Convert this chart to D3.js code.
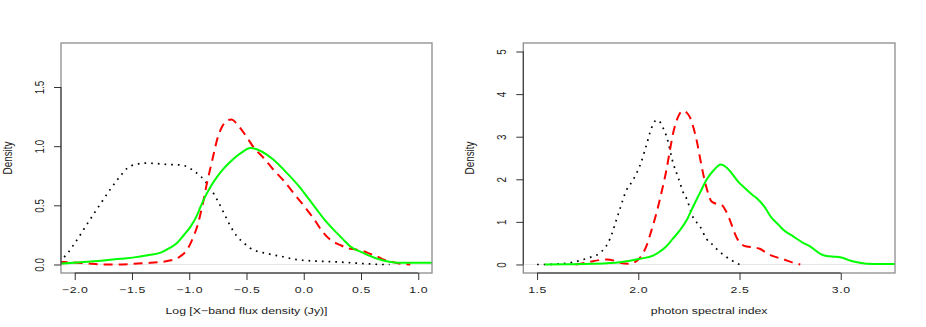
<!DOCTYPE html>
<html>
<head>
<meta charset="utf-8">
<script src="https://cdn.jsdelivr.net/npm/d3@7"></script>
<style>
  body { margin: 0; background: #fff; }
  text { font-family: "Liberation Sans", Arial, sans-serif; fill: #222; }
</style>
</head>
<body>
<div id="wrapper"></div>
<script>
// left panel: log X-band flux density, three kernel density curves
const fluxDotted = [[-2.14,0.03],[-2.10,0.056],[-2.0,0.18],[-1.89,0.345],[-1.77,0.52],[-1.686,0.64],[-1.60,0.75],[-1.54,0.815],[-1.46,0.848],[-1.37,0.857],[-1.28,0.852],[-1.18,0.845],[-1.105,0.843],[-1.02,0.828],[-0.96,0.79],[-0.90,0.745],[-0.85,0.69],[-0.787,0.60],[-0.757,0.548],[-0.70,0.44],[-0.64,0.323],[-0.58,0.235],[-0.525,0.183],[-0.47,0.14],[-0.409,0.112],[-0.33,0.095],[-0.264,0.08],[-0.177,0.065],[-0.09,0.045],[0.0,0.035],[0.114,0.028],[0.2,0.025],[0.317,0.02],[0.45,0.012],[0.55,0.006],[0.694,0.0],[0.75,0.0]];
const fluxDashed = [[-2.14,0.02],[-2.09,0.02],[-1.9,0.01],[-1.77,0.0],[-1.63,0.0],[-1.48,0.006],[-1.34,0.014],[-1.16,0.035],[-1.077,0.07],[-1.018,0.126],[-0.97,0.22],[-0.93,0.323],[-0.90,0.435],[-0.874,0.548],[-0.845,0.69],[-0.815,0.815],[-0.785,0.94],[-0.757,1.054],[-0.71,1.17],[-0.67,1.217],[-0.63,1.225],[-0.59,1.195],[-0.554,1.153],[-0.50,1.08],[-0.438,0.99],[-0.35,0.90],[-0.264,0.80],[-0.177,0.71],[-0.09,0.605],[0.027,0.464],[0.085,0.39],[0.172,0.267],[0.23,0.21],[0.317,0.165],[0.375,0.14],[0.462,0.125],[0.52,0.112],[0.58,0.09],[0.637,0.07],[0.70,0.04],[0.78,0.02],[0.85,0.005],[0.93,0.0]];
const fluxSolid = [[-2.14,0.006],[-1.95,0.018],[-1.77,0.032],[-1.60,0.048],[-1.48,0.06],[-1.35,0.08],[-1.25,0.10],[-1.17,0.14],[-1.105,0.183],[-1.05,0.245],[-0.99,0.318],[-0.94,0.40],[-0.90,0.49],[-0.874,0.548],[-0.815,0.655],[-0.757,0.74],[-0.70,0.81],[-0.65,0.86],[-0.60,0.905],[-0.54,0.948],[-0.467,0.984],[-0.40,0.97],[-0.32,0.927],[-0.264,0.885],[-0.147,0.773],[-0.03,0.647],[0.0,0.61],[0.114,0.464],[0.172,0.39],[0.288,0.267],[0.346,0.21],[0.404,0.154],[0.52,0.098],[0.55,0.084],[0.694,0.034],[0.724,0.028],[0.84,0.014],[1.0,0.014],[1.14,0.014]];

// right panel: photon spectral index
const indexDotted = [[1.5,0.0],[1.546,0.0],[1.596,0.01],[1.678,0.054],[1.75,0.15],[1.81,0.27],[1.84,0.42],[1.86,0.6],[1.892,1.05],[1.909,1.3],[1.942,1.75],[1.97,1.95],[1.991,2.14],[2.008,2.32],[2.04,2.8],[2.065,3.2],[2.09,3.39],[2.10,3.38],[2.123,3.2],[2.14,3.0],[2.172,2.38],[2.2,2.0],[2.221,1.7],[2.238,1.55],[2.271,1.1],[2.304,0.9],[2.337,0.6],[2.37,0.45],[2.394,0.33],[2.419,0.234],[2.46,0.1],[2.50,0.0]];
const indexDashed = [[1.69,0.0],[1.74,0.04],[1.777,0.078],[1.843,0.117],[1.88,0.09],[1.909,0.04],[1.958,0.016],[1.985,0.06],[2.008,0.156],[2.04,0.43],[2.065,0.8],[2.09,1.21],[2.115,1.7],[2.139,2.22],[2.155,2.65],[2.172,3.08],[2.195,3.45],[2.221,3.605],[2.24,3.56],[2.254,3.465],[2.27,3.25],[2.288,2.92],[2.305,2.5],[2.32,2.14],[2.34,1.75],[2.362,1.48],[2.39,1.42],[2.411,1.40],[2.43,1.28],[2.452,1.05],[2.475,0.75],[2.50,0.52],[2.535,0.42],[2.57,0.40],[2.60,0.37],[2.63,0.28],[2.666,0.195],[2.715,0.125],[2.76,0.05],[2.80,0.0]];
const indexSolid = [[1.538,0.0],[1.65,0.005],[1.777,0.016],[1.909,0.054],[2.008,0.133],[2.073,0.21],[2.105,0.3],[2.139,0.43],[2.17,0.6],[2.205,0.8],[2.24,1.05],[2.271,1.36],[2.304,1.675],[2.337,1.99],[2.37,2.2],[2.408,2.35],[2.43,2.3],[2.452,2.2],[2.468,2.1],[2.5,1.91],[2.518,1.83],[2.567,1.62],[2.584,1.56],[2.633,1.285],[2.65,1.15],[2.699,0.9],[2.715,0.82],[2.765,0.66],[2.814,0.51],[2.85,0.42],[2.897,0.257],[2.93,0.2],[2.98,0.18],[3.02,0.14],[3.045,0.093],[3.095,0.04],[3.128,0.016],[3.2,0.01],[3.3,0.016]];

const fluxXTicks = [-2.0, -1.5, -1.0, -0.5, 0.0, 0.5, 1.0];
const fluxYTicks = [0.0, 0.5, 1.0, 1.5];
const indexXTicks = [1.5, 2.0, 2.5, 3.0];
const indexYTicks = [0, 1, 2, 3, 4, 5];

const svg = d3.select("#wrapper")
    .append("svg")
    .attr("width", 926)
    .attr("height", 327);

function drawPanel(p) {
    const x = d3.scaleLinear().domain(p.xDomain).range([p.left, p.right]);
    const y = d3.scaleLinear().domain(p.yDomain).range([273, 43]);
    const g = svg.append("g");

    g.append("clipPath").attr("id", p.id)
        .append("rect")
        .attr("x", p.left).attr("y", 43)
        .attr("width", p.right - p.left).attr("height", 230);

    // zero line
    g.append("line")
        .attr("x1", p.left).attr("x2", p.right)
        .attr("y1", y(0)).attr("y2", y(0))
        .attr("stroke", "#e6e6e6").attr("stroke-width", 1);

    const line = d3.line()
        .x(d => x(d[0]))
        .y(d => y(d[1]))
        .curve(d3.curveMonotoneX);

    const curves = g.append("g").attr("clip-path", `url(#${p.id})`);
    p.series.forEach(s => {
        curves.append("path")
            .datum(s.data)
            .attr("d", line)
            .attr("fill", "none")
            .attr("stroke", s.color)
            .attr("stroke-width", s.width)
            .attr("stroke-dasharray", s.dash);
    });

    // frame
    g.append("rect")
        .attr("x", p.left).attr("y", 43)
        .attr("width", p.right - p.left).attr("height", 230)
        .attr("fill", "none")
        .attr("stroke", "#8c8c8c")
        .attr("stroke-width", 1.3);

    const xAxis = g.append("g")
        .attr("transform", "translate(0,273)")
        .call(d3.axisBottom(x).tickValues(p.xTicks).tickFormat(p.xFormat).tickSize(7));
    const yAxis = g.append("g")
        .attr("transform", `translate(${p.left},0)`)
        .call(d3.axisLeft(y).tickValues(p.yTicks).tickFormat(p.yFormat).tickSize(7));

    [xAxis, yAxis].forEach(a => {
        a.select(".domain").remove();
        a.selectAll("line").attr("stroke", "#333").attr("stroke-width", 1);
        a.selectAll("text").attr("fill", "#222").style("font-size", "12.3px")
            .attr("font-family", null);
    });

    // axis lines span first to last tick, R style
    xAxis.append("line")
        .attr("x1", x(p.xTicks[0])).attr("x2", x(p.xTicks[p.xTicks.length - 1]))
        .attr("stroke", "#333");
    yAxis.append("line")
        .attr("y1", y(p.yTicks[0])).attr("y2", y(p.yTicks[p.yTicks.length - 1]))
        .attr("stroke", "#333");

    xAxis.selectAll("text")
        .attr("y", null).attr("dy", null)
        .attr("text-anchor", "middle")
        .attr("letter-spacing", "0.6px")
        .attr("transform", "translate(0,19.5) scale(1,0.74)");
    yAxis.selectAll("text")
        .attr("x", null).attr("dy", null)
        .attr("text-anchor", "middle")
        .attr("transform", "translate(-17,0) rotate(-90) scale(0.8,1)");

    g.append("text")
        .attr("transform", `translate(${(p.left + p.right) / 2},313.5) scale(1,0.74)`)
        .attr("text-anchor", "middle")
        .style("font-size", "12.3px")
        .text(p.xTitle);

    g.append("text")
        .attr("transform", `translate(${p.left - 49.5},158) rotate(-90) scale(0.8,1)`)
        .attr("text-anchor", "middle")
        .style("font-size", "12.3px")
        .text("Density");
}

drawPanel({
    id: "clipFlux",
    left: 61, right: 432,
    xDomain: [-2.12, 1.12], yDomain: [-0.072, 1.872],
    xTicks: fluxXTicks, yTicks: fluxYTicks,
    xFormat: d3.format(".1f"), yFormat: d3.format(".1f"),
    xTitle: "Log [X\u2212band flux density (Jy)]",
    series: [
        { data: fluxDotted, color: "#000", width: 1.7, dash: "1.7,5" },
        { data: fluxDashed, color: "#ff0000", width: 2, dash: "9,6" },
        { data: fluxSolid, color: "#00ff00", width: 2, dash: null }
    ]
});

drawPanel({
    id: "clipIndex",
    left: 523.3, right: 895,
    xDomain: [1.432, 3.268], yDomain: [-0.2, 5.2],
    xTicks: indexXTicks, yTicks: indexYTicks,
    xFormat: d3.format(".1f"), yFormat: d3.format("d"),
    xTitle: "photon spectral index",
    series: [
        { data: indexDotted, color: "#000", width: 1.7, dash: "1.7,5" },
        { data: indexDashed, color: "#ff0000", width: 2, dash: "9,6" },
        { data: indexSolid, color: "#00ff00", width: 2, dash: null }
    ]
});
</script>
</body>
</html>
